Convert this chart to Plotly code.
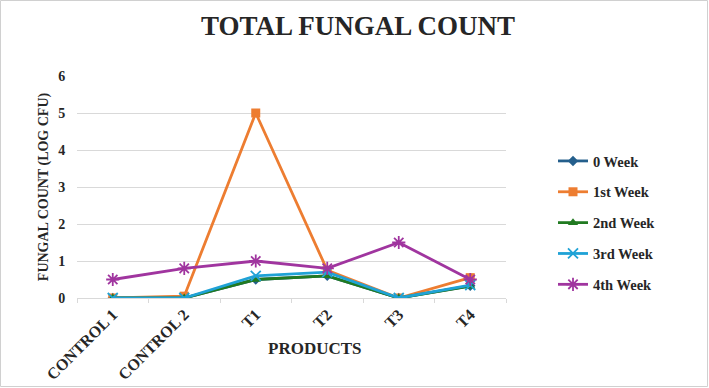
import plotly.graph_objects as go

categories = ["CONTROL 1", "CONTROL 2", "T1", "T2", "T3", "T4"]
week0 = [0, 0, 0.5, 0.6, 0, 0.33]
week1 = [0, 0.05, 5.0, 0.75, 0, 0.55]
week2 = [0, 0, 0.5, 0.6, 0, 0.32]
week3 = [0, 0, 0.6, 0.7, 0, 0.35]
week4 = [0.5, 0.8, 1.0, 0.8, 1.5, 0.5]

series = [
    ("0 Week", week0, "#245f8c", "diamond", 8, False),
    ("1st Week", week1, "#ed7d31", "square", 9, False),
    ("2nd Week", week2, "#217a21", "triangle-up", 9, False),
    ("3rd Week", week3, "#1fa2d6", "x-thin-open", 10, True),
    ("4th Week", week4, "#a0359f", "asterisk-open", 11, True),
]

FONT = "Liberation Serif"
TXT = "#262626"
fig = go.Figure()
for name, vals, color, sym, size, openm in series:
    marker = dict(symbol=sym, size=size, color=color)
    if openm:
        marker["line"] = dict(color=color, width=1.8)
    fig.add_trace(go.Scatter(
        x=categories, y=vals, name="<b>" + name + "</b>", mode="lines+markers",
        legendgroup=name,
        line=dict(color=color, width=2.8), marker=marker,
    ))

W, H = 709, 388
L, R, T, B = 77, 203, 76, 90
pw, ph = W - L - R, H - T - B

def px(x):
    return (x - L) / pw

def py(y):
    return (H - B - y) / ph

fig.update_layout(
    width=W, height=H,
    margin=dict(l=L, r=R, t=T, b=B, autoexpand=False),
    paper_bgcolor="white", plot_bgcolor="white",
    font=dict(family=FONT, color=TXT),
    title=dict(text="<b>TOTAL FUNGAL COUNT</b>",
               x=358 / W, xref="container", xanchor="center",
               y=1 - 26 / H, yref="container", yanchor="middle",
               font=dict(family=FONT, size=27, color=TXT)),
    legend=dict(x=px(553), xanchor="left", y=py(145), yanchor="top",
                font=dict(family=FONT, size=14.5, color=TXT),
                tracegroupgap=9, itemwidth=30, traceorder="grouped"),
    xaxis=dict(
        type="category", tickangle=-45, automargin=False,
        tickfont=dict(family=FONT, size=16, color=TXT),
        showgrid=False, showline=True, linecolor="#d9d9d9", linewidth=1,
        ticks="outside", ticklen=4, tickcolor="#d9d9d9", tickson="boundaries",
        tickprefix="<b>", ticksuffix="</b>",
        range=[-0.5, 5.5],
    ),
    yaxis=dict(
        range=[0, 6], dtick=1, showgrid=True, gridcolor="#d9d9d9", gridwidth=1,
        zeroline=False, showline=False, automargin=False,
        tickfont=dict(family=FONT, size=14, color=TXT),
        tickprefix="<b>", ticksuffix="</b>", ticks="outside", ticklen=8, tickcolor="white",
        title=dict(text="<b>FUNGAL COUNT (LOG CFU)</b>", font=dict(family=FONT, size=14, color=TXT), standoff=6),
    ),
    annotations=[dict(text="<b>PRODUCTS</b>", xref="paper", yref="paper",
                      x=px(315), y=py(348), xanchor="center", yanchor="middle",
                      showarrow=False, font=dict(family=FONT, size=17, color=TXT))],
    shapes=[dict(type="rect", xref="paper", yref="paper",
                 x0=px(0.5), x1=px(W - 1.5), y0=py(H - 1.5), y1=py(0.5),
                 line=dict(color="#d0d0d0", width=1), layer="below")],
)
fig.write_html("out.html")
